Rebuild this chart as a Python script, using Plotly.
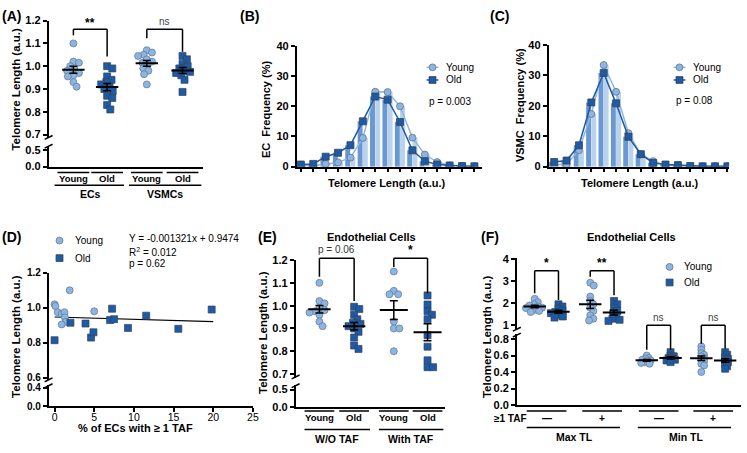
import numpy as np
import plotly.graph_objects as go

W, H = 747, 453
FONT = "Liberation Sans, Arial, Helvetica, sans-serif"

# ---------------- data ----------------
# Panel A: telomere length per donor
A_GROUPS = ["Young", "Old", "Young", "Old"]
A_CELLS = ["ECs", "VSMCs"]
A_EC_YOUNG = [1.10, 1.02, 1.015, 1.00, 0.985, 0.98, 0.97, 0.96, 0.955, 0.93, 0.91]
A_EC_OLD = [1.00, 0.99, 0.955, 0.94, 0.93, 0.92, 0.91, 0.90, 0.89, 0.87, 0.86, 0.83, 0.81]
A_VSMC_YOUNG = [1.07, 1.06, 1.05, 1.045, 1.03, 1.02, 1.015, 1.005, 0.99, 0.98, 0.965, 0.92]
A_VSMC_OLD = [1.045, 1.03, 1.01, 1.00, 0.99, 0.98, 0.975, 0.97, 0.96, 0.94, 0.887]
A_SIG = ["**", "ns"]

# Panels B / C: frequency distributions over 15 telomere-length bins
BINS = list(range(1, 16))
B_YOUNG = [0.3, 0.3, 0.9, 1.4, 3.0, 9.5, 24.8, 24.7, 20.0, 9.6, 4.0, 1.5, 0.4, 0.2, 0.1]
B_OLD = [0.7, 0.9, 3.3, 4.6, 7.1, 15.0, 23.2, 22.2, 14.8, 5.4, 1.8, 0.7, 0.4, 0.2, 0.1]
B_P = "p = 0.003"
C_YOUNG = [0.6, 0.8, 5.4, 17.3, 33.4, 24.6, 11.0, 4.0, 1.8, 0.5, 0.4, 0.1, 0.1, 0.1, 0.1]
C_OLD = [1.5, 2.0, 7.0, 21.1, 30.8, 20.8, 9.8, 4.1, 1.2, 0.7, 0.5, 0.2, 0.1, 0.1, 0.1]
C_P = "p = 0.08"

# Panel D: TL vs % ECs with >=1 TAF
D_YOUNG_X = [0.0, 0.1, 0.4, 0.9, 1.25, 1.3, 1.45, 0.9, 1.9, 5.0]
D_YOUNG_Y = [1.02, 1.01, 0.975, 0.965, 0.975, 0.945, 0.92, 0.905, 1.10, 0.98]
D_OLD_X = [0.0, 2.0, 3.9, 4.6, 4.9, 7.0, 7.25, 7.5, 9.25, 11.55, 15.6, 19.8]
D_OLD_Y = [0.815, 0.915, 0.91, 0.83, 0.86, 0.93, 0.995, 0.935, 0.885, 0.955, 0.88, 0.99]
D_SLOPE = -0.001321
D_INTERCEPT = 0.9474
D_FIT_X = [0, 20]
D_STATS = ["Y = -0.001321x + 0.9474", "R<sup>2</sup> = 0.012", "p = 0.62"]

# Panel E: ECs without / with TAF
E_WO_YOUNG = [1.10, 1.02, 1.01, 0.99, 0.98, 0.975, 0.97, 0.96, 0.93, 0.91]
E_WO_OLD = [0.995, 0.985, 0.96, 0.94, 0.925, 0.92, 0.91, 0.90, 0.885, 0.86, 0.825, 0.81]
E_WITH_YOUNG = [1.15, 1.065, 1.05, 1.05, 0.93, 0.90, 0.90, 0.80]
E_WITH_OLD = [1.045, 1.005, 0.975, 0.96, 0.94, 0.87, 0.82, 0.76, 0.73, 0.73]
E_GROUPS = ["W/O TAF", "With TAF"]
E_SIG = ["p = 0.06", "*"]

# Panel F: max / min TL
F_MAXN_YOUNG = [2.2, 2.05, 1.95, 1.9, 1.85, 1.8, 1.78, 1.7, 1.65, 1.6]
F_MAXN_OLD = [1.95, 1.85, 1.75, 1.65, 1.6, 1.55, 1.45, 1.4, 1.35]
F_MAXP_YOUNG = [2.93, 2.8, 2.3, 2.1, 1.95, 1.8, 1.65, 1.45, 1.3, 1.22]
F_MAXP_OLD = [2.1, 1.95, 1.8, 1.65, 1.55, 1.4, 1.3, 1.25, 1.2]
F_MINN_YOUNG = [0.60, 0.57, 0.56, 0.55, 0.54, 0.53, 0.52, 0.51, 0.50]
F_MINN_OLD = [0.64, 0.60, 0.59, 0.57, 0.56, 0.55, 0.54, 0.52]
F_MINP_YOUNG = [0.71, 0.67, 0.63, 0.61, 0.59, 0.57, 0.55, 0.53, 0.50, 0.48, 0.40]
F_MINP_OLD = [0.64, 0.61, 0.58, 0.56, 0.54, 0.52, 0.50, 0.47, 0.44]
F_TAF = ["\u2014", "+", "\u2014", "+"]
F_GROUPS = ["Max TL", "Min TL"]
F_SIG = ["*", "**", "ns", "ns"]

# ---------------- styling helpers ----------------
YOUNG_FILL = "#8db5e2"
YOUNG_EDGE = "#5f7592"
OLD_FILL = "#1b5ba8"
OLD_EDGE = "#3a4250"
YOUNG_LINE = "#8fb6e0"
OLD_LINE = "#1f5aa6"
BAR_OLD = "#6a98d0"
BAR_YOUNG = "#b9d2ee"


def fx(px):
    return px / W


def fy(py):
    return 1 - py / H


fig = go.Figure()
shapes = []
annotations = []


def axis(**kw):
    d = dict(showline=True, linecolor="black", linewidth=1.5, ticks="outside",
             ticklen=4, tickwidth=1.5, tickcolor="black", showgrid=False,
             zeroline=False, fixedrange=True,
             tickfont=dict(family=FONT, size=11, color="black", weight="bold"))
    d.update(kw)
    return d


def xcat(dom, rng, anchor):
    return axis(domain=[fx(dom[0]), min(1.0, fx(dom[1]))], range=rng, anchor=anchor,
                showticklabels=False, ticks="")


def anchor_trace(xa, ya):
    # empty placeholder so that the lower (broken) axis segment is drawn
    fig.add_trace(go.Scatter(x=[None], y=[None], xaxis=xa, yaxis=ya, mode="markers",
                             showlegend=False, hoverinfo="skip"))


def text(x, y, s, size=11, bold=False, xref="paper", xanchor="center", angle=0, color="black"):
    annotations.append(dict(
        x=x if xref != "paper" else fx(x), y=fy(y), xref=xref, yref="paper", text=s,
        showarrow=False, xanchor=xanchor, yanchor="middle", textangle=angle,
        font=dict(family=FONT, size=size, color=color, weight="bold" if bold else "normal")))


def hline(xref, x0, x1, py, w=1.5):
    shapes.append(dict(type="line", xref=xref, yref="paper", x0=x0, x1=x1,
                       y0=fy(py), y1=fy(py), line=dict(color="black", width=w)))


def vline(xref, x, py0, py1, w=1.5):
    shapes.append(dict(type="line", xref=xref, yref="paper", x0=x, x1=x,
                       y0=fy(py0), y1=fy(py1), line=dict(color="black", width=w)))


def bracket(xref, x0, x1, ptop, pl, pr, label, ply, bold, size=11, color="black"):
    hline(xref, x0, x1, ptop)
    vline(xref, x0, ptop, pl)
    vline(xref, x1, ptop, pr)
    text((x0 + x1) / 2, ply, label, size=size, bold=bold, xref=xref, color=color)


def brk(ax, py):
    shapes.append(dict(type="line", xref="paper", yref="paper", x0=fx(ax - 4), x1=fx(ax + 4),
                       y0=fy(py + 2), y1=fy(py - 2), line=dict(color="black", width=1.5)))


def swarm(vals, ppu, d=5.5, step=0.4):
    order = sorted(range(len(vals)), key=lambda i: -vals[i])
    placed = []
    offs = [0.0] * len(vals)
    for i in order:
        y = vals[i] * ppu
        k = 0
        done = False
        while not done:
            cands = [0.0] if k == 0 else [k * step, -k * step]
            for c in cands:
                if all((c - ox) ** 2 + (y - oy) ** 2 >= d * d for ox, oy in placed):
                    offs[i] = c
                    placed.append((c, y))
                    done = True
                    break
            k += 1
    return offs


def dots(vals, pos, xa, ya, ppu, young, size=7, d=5.5):
    offs = swarm(vals, ppu, d=d)
    fig.add_trace(go.Scatter(
        x=[pos + o for o in offs], y=vals, xaxis=xa, yaxis=ya, mode="markers",
        marker=dict(symbol="circle" if young else "square", size=size,
                    color=YOUNG_FILL if young else OLD_FILL,
                    line=dict(color=YOUNG_EDGE if young else OLD_EDGE, width=0.7)),
        showlegend=False, hoverinfo="skip"))


def mean_sem(vals, pos, xa, ya, w=16):
    v = np.asarray(vals, dtype=float)
    m = v.mean()
    s = v.std(ddof=1) / np.sqrt(len(v))
    fig.add_trace(go.Scatter(
        x=[pos], y=[m], xaxis=xa, yaxis=ya, mode="markers",
        marker=dict(symbol="line-ew", size=w, line=dict(width=2, color="black")),
        error_y=dict(type="data", array=[s], width=4, thickness=1.5, color="black"),
        showlegend=False, hoverinfo="skip"))


def legend_marker(cx, cy, young, line_span=None):
    if line_span:
        shapes.append(dict(type="line", xref="paper", yref="paper", x0=fx(line_span[0]),
                           x1=fx(line_span[1]), y0=fy(cy), y1=fy(cy),
                           line=dict(color=YOUNG_LINE if young else OLD_LINE, width=1.5)))
    r = 3.5
    shapes.append(dict(type="circle" if young else "rect", xref="paper", yref="paper",
                       x0=fx(cx - r), x1=fx(cx + r), y0=fy(cy + r), y1=fy(cy - r),
                       fillcolor=YOUNG_FILL if young else OLD_FILL,
                       line=dict(color=YOUNG_EDGE if young else OLD_EDGE, width=0.8)))


layout = dict(width=W, height=H, margin=dict(l=0, r=0, t=0, b=0),
              paper_bgcolor="white", plot_bgcolor="white", showlegend=False,
              font=dict(family=FONT, color="black"))

# ================= Panel A =================
A_POS = [25, 59, 99, 135]
layout["xaxis"] = xcat((49, 205), [0, 156], "y")
layout["yaxis"] = axis(domain=[fy(165), fy(144)], range=[0, 0.62], anchor="x",
                       tickvals=[0, 0.5], ticktext=["0.0", "0.5"])
layout["yaxis2"] = axis(domain=[fy(136), fy(15)], range=[0.683, 1.2], anchor="x",
                        tickvals=[0.7, 0.8, 0.9, 1.0, 1.1, 1.2], tickformat=".1f")
anchor_trace("x", "y")
brk(49, 135)
brk(49, 144)
for vals, p, yg in zip([A_EC_YOUNG, A_EC_OLD, A_VSMC_YOUNG, A_VSMC_OLD], A_POS,
                       [True, False, True, False]):
    dots(vals, p, "x", "y2", 234, yg)
for vals, p in zip([A_EC_YOUNG, A_EC_OLD, A_VSMC_YOUNG, A_VSMC_OLD], A_POS):
    mean_sem(vals, p, "x", "y2")
for lab, p in zip(A_GROUPS, A_POS):
    hline("x", p - 16, p + 16, 171)
    text(p, 177.5, lab, size=9.5, bold=True, xref="x")
hline("x", A_POS[0] - 19, A_POS[1] + 17, 184)
hline("x", A_POS[2] - 18, A_POS[3] + 19, 184)
text((A_POS[0] + A_POS[1]) / 2, 193, A_CELLS[0], size=10.5, bold=True, xref="x")
text((A_POS[2] + A_POS[3]) / 2, 193, A_CELLS[1], size=10.5, bold=True, xref="x")
bracket("x", A_POS[0], A_POS[1], 24, 30, 52, A_SIG[0], 17, True, size=12)
bracket("x", A_POS[2], A_POS[3], 24, 33, 47, A_SIG[1], 16, False, size=10, color="#444")
text(16, 85, "Telomere Length (a.u.)", size=11.5, bold=True, angle=-90)
text(12, 10, "(A)", size=14, bold=True)

# ================= Panels B & C =================
def hist_panel(xa, ya, young, old):
    fig.add_trace(go.Bar(x=BINS, y=old, xaxis=xa, yaxis=ya, width=0.4, offset=-0.42,
                         marker=dict(color=BAR_OLD, line=dict(width=0)), showlegend=False,
                         hoverinfo="skip"))
    fig.add_trace(go.Bar(x=BINS, y=young, xaxis=xa, yaxis=ya, width=0.4, offset=0.0,
                         marker=dict(color=BAR_YOUNG, line=dict(width=0)), showlegend=False,
                         hoverinfo="skip"))
    fig.add_trace(go.Scatter(x=BINS, y=young, xaxis=xa, yaxis=ya, mode="lines+markers",
                             line=dict(color=YOUNG_LINE, width=1.5),
                             marker=dict(symbol="circle", size=7, color=YOUNG_FILL,
                                         line=dict(color=YOUNG_EDGE, width=0.8)),
                             showlegend=False, hoverinfo="skip"))
    fig.add_trace(go.Scatter(x=BINS, y=old, xaxis=xa, yaxis=ya, mode="lines+markers",
                             line=dict(color=OLD_LINE, width=1.5),
                             marker=dict(symbol="square", size=7, color=OLD_FILL,
                                         line=dict(color=OLD_EDGE, width=0.8)),
                             showlegend=False, hoverinfo="skip"))


layout["xaxis2"] = axis(domain=[fx(299), fx(486)], range=[0.656, 15.62], anchor="y3",
                        tickvals=BINS, showticklabels=False)
layout["yaxis3"] = axis(domain=[fy(165), fy(41)], range=[0, 40], anchor="x2",
                        tickvals=[0, 10, 20, 30, 40])
hist_panel("x2", "y3", B_YOUNG, B_OLD)
text(268, 106, "EC  Frequency (%)", size=11, bold=True, angle=-90)
text(390, 182, "Telomere Length (a.u.)", size=11, bold=True)
legend_marker(436, 63, True, (430, 442))
legend_marker(436, 76, False, (430, 442))
text(448, 63, "Young", size=10, xanchor="left")
text(448, 76, "Old", size=10, xanchor="left")
text(430, 98, B_P, size=10, xanchor="left")
text(252, 10, "(B)", size=14, bold=True)

layout["xaxis3"] = axis(domain=[fx(553), fx(735)], range=[0.543, 15.14], anchor="y4",
                        tickvals=BINS, showticklabels=False)
layout["yaxis4"] = axis(domain=[fy(165), fy(40)], range=[0, 40], anchor="x3",
                        tickvals=[0, 10, 20, 30, 40])
hist_panel("x3", "y4", C_YOUNG, C_OLD)
text(525, 102, "VSMC  Frequency (%)", size=11, bold=True, angle=-90)
text(645, 182, "Telomere Length (a.u.)", size=11, bold=True)
legend_marker(685, 63, True, (679, 691))
legend_marker(685, 76, False, (679, 691))
text(697, 63, "Young", size=10, xanchor="left")
text(697, 76, "Old", size=10, xanchor="left")
text(679, 97, C_P, size=10, xanchor="left")
text(504, 10, "(C)", size=14, bold=True)

# ================= Panel D =================
D_TICKFONT = dict(family=FONT, size=10, color="black", weight="bold")
layout["xaxis4"] = axis(domain=[fx(49), fx(255)], range=[-0.75, 25], anchor="y5",
                        tickvals=[0, 5, 10, 15, 20, 25], ticklabelstandoff=-3,
                        tickfont=dict(family=FONT, size=10.5, color="black"))
layout["yaxis5"] = axis(domain=[fy(411), fy(389)], range=[0, 0.463], anchor="x4",
                        tickvals=[0, 0.4], ticktext=["0.0", "0.4"], tickfont=D_TICKFONT)
layout["yaxis6"] = axis(domain=[fy(384), fy(274)], range=[0.589, 1.2], anchor="x4",
                        tickvals=[0.6, 0.8, 1.0, 1.2], tickformat=".1f", tickfont=D_TICKFONT)
anchor_trace("x4", "y5")
brk(49, 384)
brk(49, 390)
fig.add_trace(go.Scatter(x=D_FIT_X, y=[D_SLOPE * v + D_INTERCEPT for v in D_FIT_X],
                         xaxis="x4", yaxis="y6", mode="lines",
                         line=dict(color="black", width=1.2), showlegend=False, hoverinfo="skip"))
fig.add_trace(go.Scatter(x=D_YOUNG_X, y=D_YOUNG_Y, xaxis="x4", yaxis="y6", mode="markers",
                         marker=dict(symbol="circle", size=7, color=YOUNG_FILL,
                                     line=dict(color=YOUNG_EDGE, width=0.7)),
                         showlegend=False, hoverinfo="skip"))
fig.add_trace(go.Scatter(x=D_OLD_X, y=D_OLD_Y, xaxis="x4", yaxis="y6", mode="markers",
                         marker=dict(symbol="square", size=7, color=OLD_FILL,
                                     line=dict(color=OLD_EDGE, width=0.7)),
                         showlegend=False, hoverinfo="skip"))
legend_marker(60, 241, True)
legend_marker(60, 259, False)
text(74, 241, "Young", size=10, xanchor="left")
text(74, 259, "Old", size=10, xanchor="left")
for s, py in zip(D_STATS, [239, 253, 265]):
    text(128, py, s, size=10, xanchor="left")
text(16, 339, "Telomere Length (a.u.)", size=11.5, bold=True, angle=-90)
text(137, 433, "% of ECs with \u2265 1 TAF", size=11, bold=True)
text(12, 237, "(D)", size=14, bold=True)

# ================= Panel E =================
E_POS = [24, 59, 99, 133]
layout["xaxis5"] = xcat((298, 449), [0, 151], "y7")
layout["yaxis7"] = axis(domain=[fy(412), fy(389)], range=[0, 0.639], anchor="x5",
                        tickvals=[0, 0.5], ticktext=["0.0", "0.5"])
layout["yaxis8"] = axis(domain=[fy(382), fy(261)], range=[0.683, 1.2], anchor="x5",
                        tickvals=[0.7, 0.8, 0.9, 1.0, 1.1, 1.2], tickformat=".1f")
anchor_trace("x5", "y7")
brk(298, 381)
brk(298, 390)
E_SETS = [E_WO_YOUNG, E_WO_OLD, E_WITH_YOUNG, E_WITH_OLD]
for vals, p, yg in zip(E_SETS, E_POS, [True, False, True, False]):
    dots(vals, p, "x5", "y8", 234, yg)
for vals, p, w in zip(E_SETS, E_POS, [16, 16, 20, 20]):
    mean_sem(vals, p, "x5", "y8", w=w)
for lab, p in zip(A_GROUPS, E_POS):
    hline("x5", p - 15, p + 15, 416)
    text(p, 423, lab, size=9.5, bold=True, xref="x5")
hline("x5", E_POS[0] - 15, E_POS[1] + 16, 435)
hline("x5", E_POS[2] - 15, E_POS[3] + 16, 435)
text((E_POS[0] + E_POS[1]) / 2, 445, E_GROUPS[0], size=10.5, bold=True, xref="x5")
text((E_POS[2] + E_POS[3]) / 2, 445, E_GROUPS[1], size=10.5, bold=True, xref="x5")
bracket("x5", E_POS[0], E_POS[1], 259, 278, 303, E_SIG[0], 250, False, size=10, color="#333")
bracket("x5", E_POS[2], E_POS[3], 259, 268, 295, E_SIG[1], 251, True, size=12)
text(375, 237, "Endothelial Cells", size=11, bold=True)
text(265, 335, "Telomere Length (a.u.)", size=11.5, bold=True, angle=-90)
text(270, 237, "(E)", size=14, bold=True)

# ================= Panel F =================
F_CEN = [30, 86, 143, 198]
F_POS = []
for c in F_CEN:
    F_POS += [c - 12, c + 12]
layout["xaxis6"] = xcat((521, 747), [0, 226], "y9")
layout["yaxis9"] = axis(domain=[fy(410), fy(337)], range=[0, 0.859], anchor="x6",
                        tickvals=[0, 0.2, 0.4, 0.6, 0.8], tickformat=".1f")
layout["yaxis10"] = axis(domain=[fy(333), fy(259)], range=[0.78, 4.04], anchor="x6",
                         tickvals=[1, 2, 3, 4])
brk(521, 332)
brk(521, 338)
F_SETS = [F_MAXN_YOUNG, F_MAXN_OLD, F_MAXP_YOUNG, F_MAXP_OLD,
          F_MINN_YOUNG, F_MINN_OLD, F_MINP_YOUNG, F_MINP_OLD]
F_AX = ["y10"] * 4 + ["y9"] * 4
F_PPU = [22.7] * 4 + [85] * 4
F_D = [4.5] * 4 + [3.2] * 4
for i, vals in enumerate(F_SETS):
    dots(vals, F_POS[i], "x6", F_AX[i], F_PPU[i], i % 2 == 0, d=F_D[i])
for i, vals in enumerate(F_SETS):
    mean_sem(vals, F_POS[i], "x6", F_AX[i], w=16)
for lab, c in zip(F_TAF, F_CEN):
    hline("x6", c - 20, c + 20, 416)
    text(c, 424, lab, size=10, bold=True, xref="x6")
hline("x6", F_CEN[0] - 20, F_CEN[1] + 18, 433)
hline("x6", F_CEN[2] - 21, F_CEN[3] + 18, 433)
text((F_CEN[0] + F_CEN[1]) / 2, 443, F_GROUPS[0], size=10.5, bold=True, xref="x6")
text((F_CEN[2] + F_CEN[3]) / 2, 443, F_GROUPS[1], size=10.5, bold=True, xref="x6")
text(515, 424, "\u22651 TAF", size=10, bold=True)
bracket("x6", F_POS[0], F_POS[1], 272, 295, 302, F_SIG[0], 264, True, size=12)
bracket("x6", F_POS[2], F_POS[3], 272, 278, 297, F_SIG[1], 264, True, size=12)
bracket("x6", F_POS[4], F_POS[5], 328, 353, 353, F_SIG[2], 320, False, size=10, color="#444")
bracket("x6", F_POS[6], F_POS[7], 328, 347, 352, F_SIG[3], 320, False, size=10, color="#444")
legend_marker(675, 268, True)
legend_marker(675, 284, False)
text(688, 268, "Young", size=10, xanchor="left")
text(688, 284, "Old", size=10, xanchor="left")
text(637, 237, "Endothelial Cells", size=11, bold=True)
text(491, 340, "Telomere Length (a.u.)", size=11.5, bold=True, angle=-90)
text(494, 237, "(F)", size=14, bold=True)

layout["shapes"] = shapes
layout["annotations"] = annotations
layout["barmode"] = "overlay"
fig.update_layout(**layout)
fig.write_html("out.html", config={"displayModeBar": False},
               post_script="document.body.style.margin='0';document.body.style.overflow='hidden';")
